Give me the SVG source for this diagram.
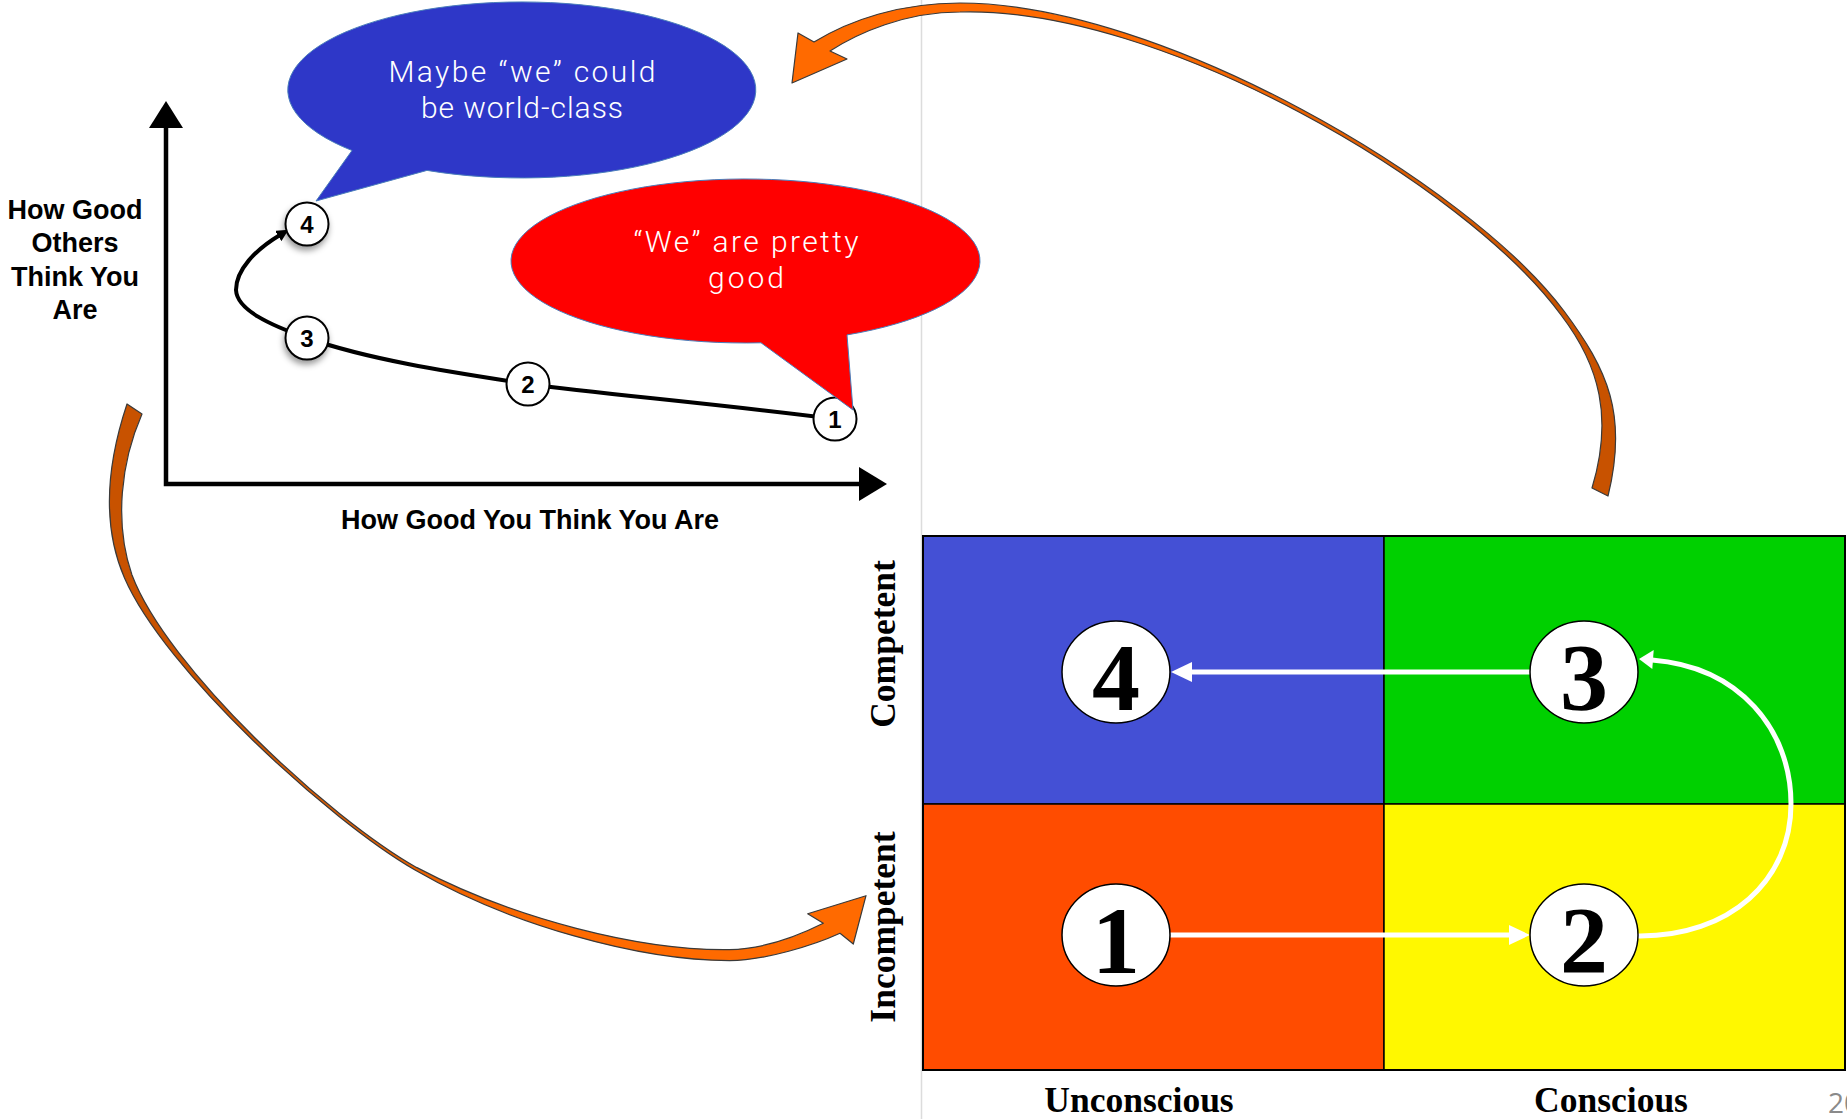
<svg xmlns="http://www.w3.org/2000/svg" width="1847" height="1119" viewBox="0 0 1847 1119">
<defs>
<style>
.lbl{font-family:"Liberation Sans",Arial,sans-serif;font-weight:bold;font-size:27px;fill:#000;text-anchor:middle}
.dg{font-family:"Liberation Sans",Arial,sans-serif;font-weight:bold;font-size:24px;fill:#000;text-anchor:middle}
.bub{font-family:Roboto,"Open Sans",sans-serif;font-weight:300;font-size:30px;fill:#fff;text-anchor:middle}
.q{font-family:"Liberation Serif","Times New Roman",serif;font-weight:bold;fill:#000;text-anchor:middle}
.qn{font-size:96px}
.ql{font-size:35.5px}
.sc{fill:#fff;stroke:#000;stroke-width:2}
.qe{fill:#fff;stroke:#000;stroke-width:1.5}
.wa{fill:none;stroke:#fff;stroke-width:5}
.wh{fill:#fff}
.oa{stroke:#3a3a3a;stroke-width:1.2;stroke-linejoin:round}
.bs{stroke:#4a7ebb;stroke-width:1}
.cell{stroke:#000;stroke-width:1.5}
</style>
<filter id="sh" x="-60%" y="-60%" width="220%" height="220%"><feDropShadow dx="-1" dy="4" stdDeviation="3" flood-color="#000" flood-opacity="0.4"/></filter>
<marker id="ab" markerUnits="userSpaceOnUse" markerWidth="14" markerHeight="12" refX="2" refY="6" orient="auto"><path d="M0,0 L12,6 L0,12 Z" fill="#000"/></marker>
<linearGradient id="gTop" gradientUnits="userSpaceOnUse" x1="1560" y1="320" x2="1150" y2="40"><stop offset="0" stop-color="#C85200"/><stop offset="1" stop-color="#FF6A00"/></linearGradient>
<linearGradient id="gBot" gradientUnits="userSpaceOnUse" x1="200" y1="680" x2="560" y2="930"><stop offset="0" stop-color="#C85200"/><stop offset="1" stop-color="#FF6A00"/></linearGradient>
</defs>
<rect x="0" y="0" width="1847" height="1119" fill="#fff"/>
<line x1="921.5" y1="0" x2="921.5" y2="1119" stroke="#dcdcdc" stroke-width="1.5"/>

<g id="axes">
<path d="M166,127 V484 H859" fill="none" stroke="#000" stroke-width="4.5"/>
<polygon points="166,101 149,128 183,128" fill="#000"/>
<polygon points="887,484 859,467 859,501" fill="#000"/>
<text class="lbl" x="75" y="219">How Good</text>
<text class="lbl" x="75" y="252">Others</text>
<text class="lbl" x="75" y="286">Think You</text>
<text class="lbl" x="75" y="319">Are</text>
<text class="lbl" x="530" y="529">How Good You Think You Are</text>
</g>

<g id="quadrant">
<rect class="cell" x="923" y="536" width="461" height="268" fill="#4450D5"/>
<rect class="cell" x="1384" y="536" width="461" height="268" fill="#00D000"/>
<rect class="cell" x="923" y="804" width="461" height="266" fill="#FF4C00"/>
<rect class="cell" x="1384" y="804" width="461" height="266" fill="#FFF800"/>
<rect x="923" y="536" width="922" height="534" fill="none" stroke="#000" stroke-width="2"/>
<text class="q ql" transform="translate(895,644) rotate(-90)">Competent</text>
<text class="q ql" transform="translate(895,927) rotate(-90)">Incompetent</text>
<text class="q ql" x="1139" y="1112">Unconscious</text>
<text class="q ql" x="1611" y="1112">Conscious</text>
</g>

<g id="connectors">
<path d="M835,419 C700,402 600,394 528,384 C450,372 370,360 307,338 C270,325 237,310 236,290 C236,270 255,250 280,235" fill="none" stroke="#000" stroke-width="4" marker-end="url(#ab)"/>
<path id="arrow-top" class="oa" fill="url(#gTop)" d="M1608,496 C1628,415 1608,370 1564,311 C1468,183 1160,3 960,3 C900,3 850,20 814,42 L798,33 L792,83 L847,59 L830,51 C858,33 905,12 960,12 C1160,6 1466,185 1561,315 C1600,366 1613,418 1592,488 Z"/>
<path id="arrow-bottom" class="oa" fill="url(#gBot)" d="M127,404 C108,461 100.5,522.8 124.5,578 C164.5,670 328.4,820 415,870 C510,925 639.5,960.6 729.5,960.6 C765,960.6 815,944.8 840,933.3 L853.3,944 L866,895.7 L807.7,913.7 L823.3,923.3 C798,936 765,949 729.5,949.6 C641,951 514,919 416.5,867.4 C329,818 167,668 131.9,574.8 C114,522 121,462 142,414 Z"/>
<line class="wa" x1="1530" y1="672" x2="1190" y2="672"/>
<polygon class="wh" points="1171,672 1192,662 1192,682"/>
<line class="wa" x1="1170" y1="935" x2="1511" y2="935"/>
<polygon class="wh" points="1530,935 1509,925 1509,945"/>
<path class="wa" d="M1638,936 C1730,937 1791,880 1791,804 C1791,730 1740,667 1652,660"/>
<polygon class="wh" points="1639,659 1653.7,650 1652.3,669"/>
</g>

<g id="g3"><circle class="sc" cx="307" cy="338" r="21.5" filter="url(#sh)"/><text class="dg" x="307" y="346.5">3</text></g>
<g id="g4"><circle class="sc" cx="307" cy="224" r="21.5" filter="url(#sh)"/><text class="dg" x="307" y="232.5">4</text></g>
<g id="g2"><circle class="sc" cx="528" cy="384" r="21.5"/><text class="dg" x="528" y="392.5">2</text></g>
<g id="g1"><circle class="sc" cx="835" cy="419" r="21.5"/><text class="dg" x="835" y="427.5">1</text></g>

<g id="bubble-blue">
<path class="bs" fill="#2E37C8" d="M352,150.5 L316,201 L427,170.4 A234 88 0 1 0 352,150.5 Z"/>
<text class="bub" x="522" y="81.5" textLength="267" lengthAdjust="spacing">Maybe “we” could</text>
<text class="bub" x="522" y="118" textLength="202" lengthAdjust="spacing">be world-class</text>
</g>
<g id="bubble-red">
<path class="bs" fill="#FF0000" d="M761,342.8 L853,410 L847,334.9 A234.5 82 0 1 0 761,342.8 Z"/>
<text class="bub" x="746" y="251.7" textLength="225" lengthAdjust="spacing">“We” are pretty</text>
<text class="bub" x="746" y="288" textLength="76" lengthAdjust="spacing">good</text>
</g>

<g id="q4"><ellipse class="qe" cx="1116" cy="672" rx="54" ry="51"/><text class="q qn" x="1116" y="710">4</text></g>
<g id="q3"><ellipse class="qe" cx="1584" cy="672" rx="54" ry="51"/><text class="q qn" x="1584" y="710">3</text></g>
<g id="q1"><ellipse class="qe" cx="1116" cy="935" rx="54" ry="51"/><text class="q qn" x="1116" y="973">1</text></g>
<g id="q2"><ellipse class="qe" cx="1584" cy="935" rx="54" ry="51"/><text class="q qn" x="1584" y="973">2</text></g>

<text x="1828" y="1113" font-family="'Open Sans',sans-serif" font-size="28" fill="#8a8a8a">20</text>
</svg>
